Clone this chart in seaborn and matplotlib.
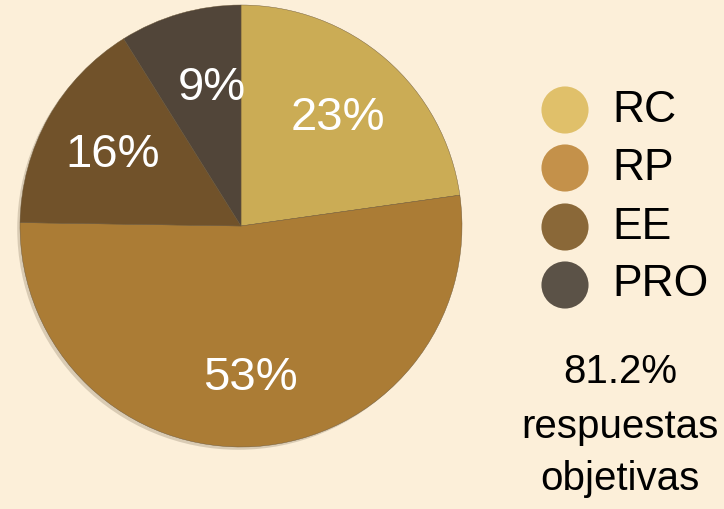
import matplotlib
matplotlib.use("Agg")
import matplotlib.pyplot as plt
import matplotlib.patheffects as pe
from matplotlib.patches import Circle
import seaborn as sns

# Answer categories and their share of responses (%)
categories = ["RC", "RP", "EE", "PRO"]
shares = [23, 53, 16, 9]
pie_colors = ["#CBAC55", "#AB7C35", "#71522A", "#514539"]
legend_colors = ["#E0C06A", "#C4914A", "#8A6838", "#5B5247"]
summary_lines = ["81.2%", "respuestas", "objetivas"]

sns.set_theme(style="white")
plt.rcParams["font.family"] = ["Liberation Sans Narrow", "Liberation Sans", "DejaVu Sans"]

bg = "#FCEFD9"
fig = plt.figure(figsize=(7.24, 5.09), dpi=100, facecolor=bg)
ax = fig.add_axes([0, 0, 1, 1])
ax.set_facecolor(bg)

center = (241, 283)
radius = 221

# soft drop shadow under the whole pie
shadow = Circle(center, radius, facecolor=bg, edgecolor="none", zorder=0)
shadow.set_path_effects([pe.SimplePatchShadow(offset=(-2, -2), alpha=0.18, shadow_rgbFace="#3a2a10")])
ax.add_patch(shadow)

ax.pie(
    shares, colors=pie_colors, startangle=90, counterclock=False,
    center=center, radius=radius, frame=True,
    wedgeprops=dict(edgecolor="#6a5638", linewidth=0.3),
)
ax.set_xlim(0, 724)
ax.set_ylim(0, 509)
ax.set_aspect("equal")
ax.axis("off")

# Percent labels inside slices
label_pos = [(338, 391), (250, 131), (113, 354), (212, 421)]
for (x, y), v in zip(label_pos, shares):
    ax.text(x, y, f"{v}%", color="white", fontsize=34, ha="center", va="center")

# Legend: colored dots with category names
ys = [399, 341, 282, 224]
for y, c, name in zip(ys, legend_colors, categories):
    ax.scatter([565], [y], s=1150, color=c, edgecolors="none", zorder=3)
    ax.text(612, y, name, fontsize=32, ha="left", va="center", color="black")

# Summary note
for y, t in zip([137, 82, 30], summary_lines):
    ax.text(620, y, t, fontsize=29, ha="center", va="center", color="black")

fig.savefig("out.png", dpi=100, facecolor=bg)
